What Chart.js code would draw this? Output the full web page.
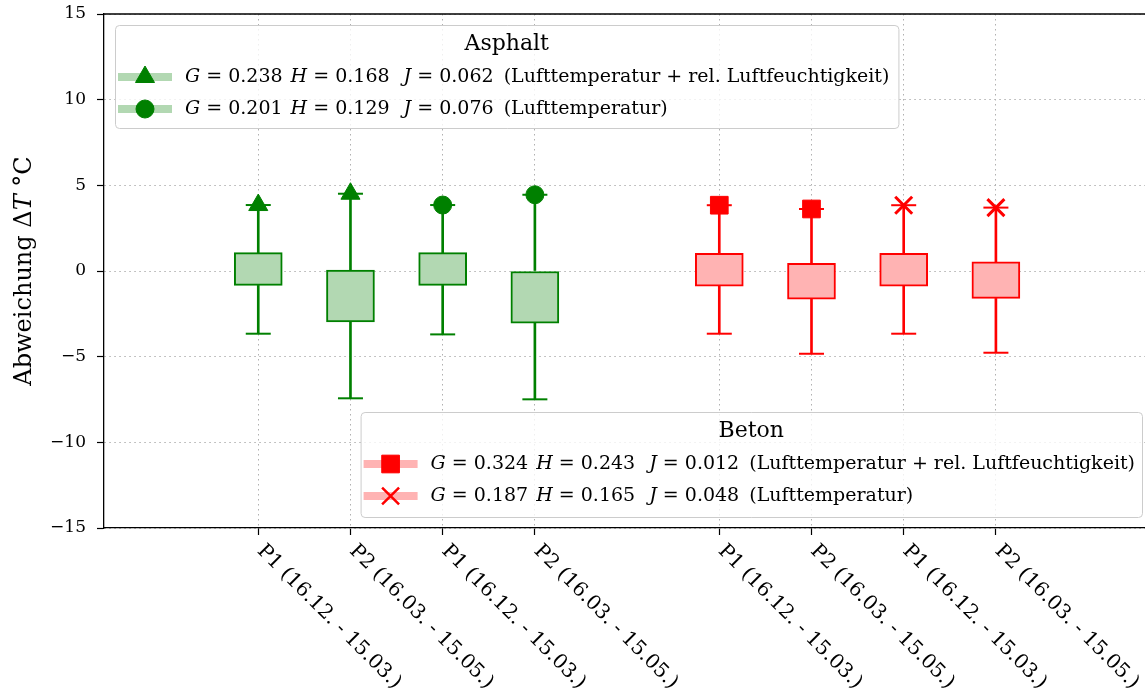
<!DOCTYPE html>
<html>
<head>
<meta charset="utf-8">
<script src="https://cdn.jsdelivr.net/npm/chart.js@4"></script>
<style>
  html, body { margin: 0; padding: 0; background: #fff; }
</style>
</head>
<body>
<canvas id="chart" width="1145" height="697"></canvas>
<script>
// box positions along the x axis
const asphaltPos = [1, 2, 3, 4];
const betonPos = [6, 7, 8, 9];
const tickPositions = [1, 2, 3, 4, 6, 7, 8, 9];
const tickLabels = [
  'P1 (16.12. - 15.03.)', 'P2 (16.03. - 15.05.)', 'P1 (16.12. - 15.03.)', 'P2 (16.03. - 15.05.)',
  'P1 (16.12. - 15.03.)', 'P2 (16.03. - 15.05.)', 'P1 (16.12. - 15.03.)', 'P2 (16.03. - 15.05.)'
];
const yTicks = [-15, -10, -5, 0, 5, 10, 15];

// quartiles and whisker ends (deviation in °C)
const asphaltQ1 = [-0.84, -2.97, -0.84, -3.04];
const asphaltQ3 = [1.07, 0.06, 1.07, 0.00];
const asphaltLow = [-3.66, -7.43, -3.70, -7.49];
const asphaltHigh = [3.85, 4.51, 3.85, 4.45];
const betonQ1 = [-0.88, -1.65, -0.88, -1.60];
const betonQ3 = [1.03, 0.45, 1.03, 0.53];
const betonLow = [-3.66, -4.83, -3.66, -4.77];
const betonHigh = [3.84, 3.62, 3.84, 3.70];

// legend statistics
const asphaltG = [0.238, 0.201];
const asphaltH = [0.168, 0.129];
const asphaltJ = [0.062, 0.076];
const betonG = [0.324, 0.187];
const betonH = [0.243, 0.165];
const betonJ = [0.012, 0.048];
const entryNotes = ['(Lufttemperatur + rel. Luftfeuchtigkeit)', '(Lufttemperatur)'];

const GREEN = '#008000', GREEN_LIGHT = '#b2d8b2';
const RED = '#ff0000', RED_LIGHT = '#ffb3b3';
const SERIF = '"DejaVu Serif", serif';

function boxDatasets(pos, q1, q3, lo, hi, dark, light) {
  return [
    {
      type: 'bar',
      data: pos.map((x, i) => ({ x, y: [q1[i], q3[i]] })),
      backgroundColor: light, borderColor: dark, borderWidth: 2,
      borderSkipped: false, barThickness: 48, grouped: false, order: 4
    },
    {
      type: 'bar',
      data: pos.map((x, i) => ({ x, y: [lo[i], q1[i]] }))
        .concat(pos.map((x, i) => ({ x, y: [q3[i], hi[i]] }))),
      backgroundColor: dark, borderWidth: 0, barThickness: 2, grouped: false, order: 5
    },
    {
      type: 'scatter',
      data: pos.map((x, i) => ({ x, y: lo[i] })).concat(pos.map((x, i) => ({ x, y: hi[i] }))),
      pointStyle: 'line', radius: 12.5, hoverRadius: 12.5, borderWidth: 2,
      borderColor: dark, order: 3
    }
  ];
}

function markerDataset(pos, hi, idx, style, color, radius, bw) {
  return {
    type: 'scatter',
    data: idx.map(i => ({ x: pos[i], y: hi[i] })),
    pointStyle: style, radius, hoverRadius: radius, borderWidth: bw,
    backgroundColor: color, borderColor: color, order: 1
  };
}

// strings starting with '_' are set in italics, numbers are extra gaps in px
function statSegments(g, h, j, note) {
  return [
    '_G', ' = ' + g.toFixed(3) + ' ', 2, '_H', ' = ' + h.toFixed(3) + ' ', 8,
    '_J', ' = ' + j.toFixed(3) + ' ', 4, note
  ];
}

function layoutSegments(ctx, segs, size, draw, x, y) {
  let cx = x;
  segs.forEach(s => {
    if (typeof s === 'number') { cx += s; return; }
    const italic = s.startsWith('_');
    const t = italic ? s.slice(1) : s;
    ctx.font = (italic ? 'italic ' : '') + size + 'px ' + SERIF;
    if (draw) ctx.fillText(t, cx, y);
    cx += ctx.measureText(t).width;
  });
  return cx - x;
}

const segWidth = (ctx, segs, size) => layoutSegments(ctx, segs, size, false, 0, 0);
const drawSegments = (ctx, segs, x, y, size) => layoutSegments(ctx, segs, size, true, x, y);

function drawLegend(ctx, box, title, rows, dark, light) {
  ctx.save();
  ctx.fillStyle = 'rgba(255,255,255,0.8)';
  ctx.strokeStyle = '#cccccc';
  ctx.lineWidth = 1;
  ctx.beginPath();
  ctx.roundRect(box.x + 0.5, box.y + 0.5, box.w, box.h, 4);
  ctx.fill();
  ctx.stroke();

  ctx.fillStyle = '#000';
  ctx.font = '22px ' + SERIF;
  ctx.textAlign = 'center';
  ctx.textBaseline = 'middle';
  ctx.fillText(title, box.x + box.w / 2, box.y + 19);

  ctx.textAlign = 'left';
  rows.forEach((row, k) => {
    const cy = box.y + 52 + k * 32;
    ctx.strokeStyle = light;
    ctx.lineWidth = 8;
    ctx.beginPath();
    ctx.moveTo(box.x + 3, cy);
    ctx.lineTo(box.x + 57, cy);
    ctx.stroke();
    ctx.fillStyle = dark;
    ctx.strokeStyle = dark;
    ctx.lineWidth = row.bw;
    Chart.helpers.drawPoint(ctx, { pointStyle: row.style, radius: row.radius, rotation: 0, borderWidth: row.bw }, box.x + 30, cy);
    ctx.fillStyle = '#000';
    drawSegments(ctx, row.segs, box.x + 70, cy, 19);
  });
  ctx.restore();
}

const annotations = {
  id: 'annotations',
  afterDraw(chart) {
    const { ctx, chartArea: a, scales: { x } } = chart;
    ctx.save();

    // top spine
    ctx.strokeStyle = '#000';
    ctx.lineWidth = 1.3;
    ctx.beginPath();
    ctx.moveTo(a.left, a.top);
    ctx.lineTo(a.right, a.top);
    ctx.stroke();

    // rotated category labels under the x axis
    ctx.fillStyle = '#000';
    ctx.font = '20px ' + SERIF;
    ctx.textAlign = 'left';
    ctx.textBaseline = 'top';
    tickPositions.forEach((v, i) => {
      const px = x.getPixelForValue(v);
      ctx.save();
      ctx.translate(px + 9, a.bottom + 13);
      ctx.rotate(Math.PI / 4);
      ctx.fillText(tickLabels[i], 0, 0);
      ctx.restore();
    });

    // y axis title
    const ySegs = ['Abweichung Δ', '_T', ' °C'];
    ctx.save();
    ctx.translate(25, (a.top + a.bottom) / 2);
    ctx.rotate(-Math.PI / 2);
    ctx.textBaseline = 'middle';
    const tw = segWidth(ctx, ySegs, 24);
    drawSegments(ctx, ySegs, -tw / 2, 0, 24);
    ctx.restore();

    // legends
    const asphaltRows = [0, 1].map(k => ({
      segs: statSegments(asphaltG[k], asphaltH[k], asphaltJ[k], entryNotes[k]),
      style: k === 0 ? 'triangle' : 'circle', radius: k === 0 ? 11 : 9, bw: 1
    }));
    const betonRows = [0, 1].map(k => ({
      segs: statSegments(betonG[k], betonH[k], betonJ[k], entryNotes[k]),
      style: k === 0 ? 'rect' : 'crossRot', radius: k === 0 ? 12.5 : 12, bw: k === 0 ? 1 : 2.5
    }));
    const aw = 70 + Math.max(...asphaltRows.map(r => segWidth(ctx, r.segs, 19))) + 9;
    const bw = 68 + Math.max(...betonRows.map(r => segWidth(ctx, r.segs, 19))) + 9;
    drawLegend(ctx, { x: a.left + 11, y: a.top + 11, w: aw, h: 103 }, 'Asphalt', asphaltRows, GREEN, GREEN_LIGHT);
    drawLegend(ctx, { x: a.right - 3 - bw, y: a.bottom - 11 - 105, w: bw, h: 105 }, 'Beton', betonRows, RED, RED_LIGHT);

    ctx.restore();
  }
};

const gridStyle = {
  color: '#b0b0b0', lineWidth: 1, offset: false,
  tickColor: '#000', tickWidth: 1.2, tickLength: 7, tickBorderDash: []
};

new Chart(document.getElementById('chart'), {
  data: {
    datasets: [
      ...boxDatasets(asphaltPos, asphaltQ1, asphaltQ3, asphaltLow, asphaltHigh, GREEN, GREEN_LIGHT),
      ...boxDatasets(betonPos, betonQ1, betonQ3, betonLow, betonHigh, RED, RED_LIGHT),
      markerDataset(asphaltPos, asphaltHigh, [0, 1], 'triangle', GREEN, 11, 1),
      markerDataset(asphaltPos, asphaltHigh, [2, 3], 'circle', GREEN, 9, 1),
      markerDataset(betonPos, betonHigh, [0, 1], 'rect', RED, 12.5, 1),
      markerDataset(betonPos, betonHigh, [2, 3], 'crossRot', RED, 12, 3)
    ]
  },
  options: {
    responsive: false,
    devicePixelRatio: 1,
    animation: false,
    layout: { autoPadding: false, padding: { left: 0, top: 14, right: 0, bottom: 0 } },
    plugins: { legend: { display: false }, tooltip: { enabled: false } },
    scales: {
      x: {
        type: 'linear', min: -0.673, max: 10.617, offset: false,
        afterBuildTicks: s => { s.ticks = tickPositions.map(v => ({ value: v })); },
        afterFit: s => { s.height = 169; s.paddingLeft = 0; s.paddingRight = 0; },
        ticks: { callback: () => '' },
        grid: gridStyle,
        border: { color: '#000', width: 1.3, dash: [1.5, 3.5] }
      },
      y: {
        min: -15, max: 15,
        afterBuildTicks: s => { s.ticks = yTicks.map(v => ({ value: v })); },
        afterFit: s => { s.width = 104; s.paddingTop = 0; s.paddingBottom = 0; },
        ticks: {
          color: '#000', padding: 11,
          font: { family: SERIF, size: 17 },
          callback: v => String(v).replace('-', '\u2212')
        },
        grid: gridStyle,
        border: { color: '#000', width: 1.3, dash: [1.5, 3.5] }
      }
    }
  },
  plugins: [annotations]
});
</script>
</body>
</html>
